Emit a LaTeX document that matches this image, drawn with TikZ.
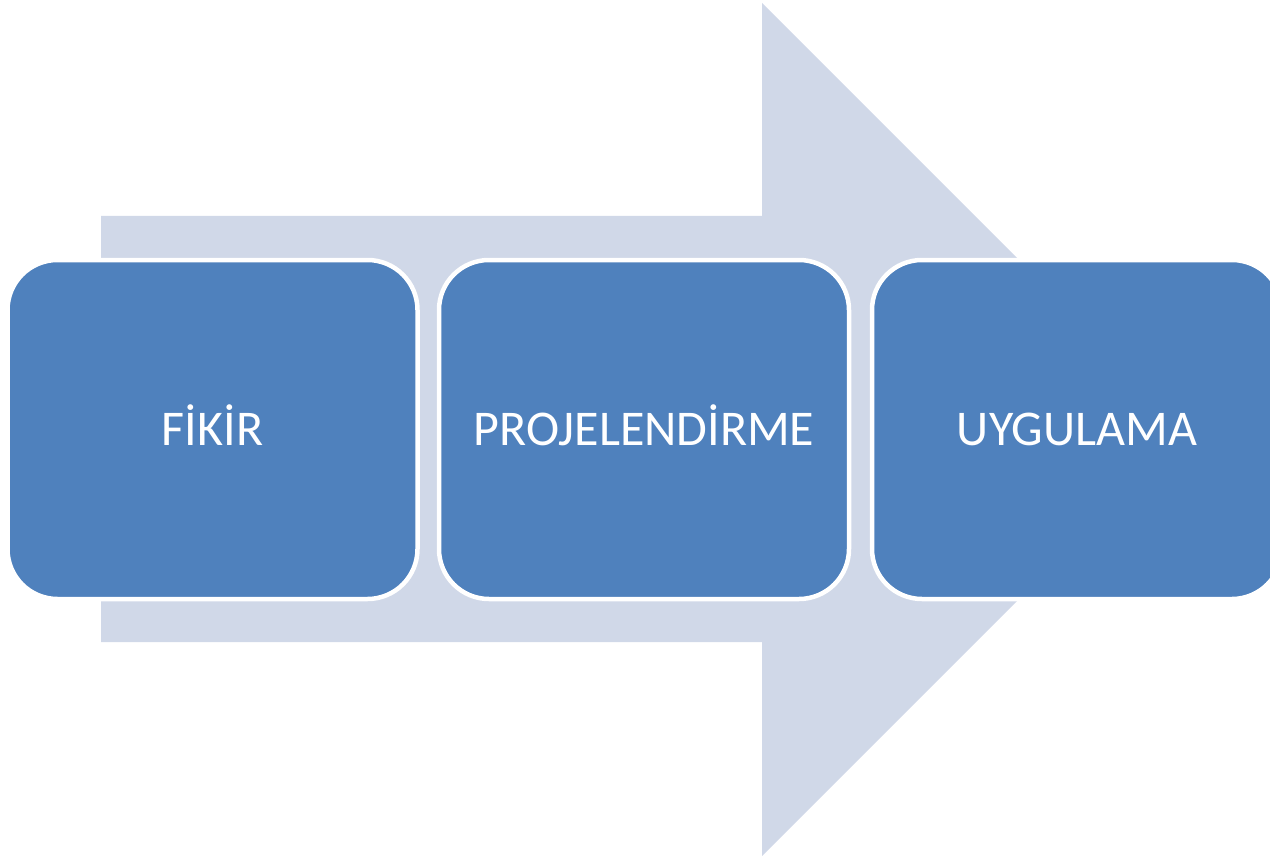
\documentclass[tikz,border=0pt]{standalone}
\usepackage{fontspec}
\setmainfont{Carlito}
\definecolor{arrowfill}{HTML}{D0D8E8}
\definecolor{boxblue}{HTML}{4F81BD}
\tikzset{
  stagebox/.style={draw=white, line width=4.5pt, fill=boxblue, rounded corners=50pt,
    minimum width=410pt, minimum height=339pt, inner sep=0pt, outer sep=0pt,
    text=white, font=\fontsize{50}{60}\selectfont, text height=32pt, text depth=0pt},
  bigarrow/.style={fill=arrowfill, draw=none}
}
\begin{document}
\begin{tikzpicture}[x=1pt,y=-1pt]
\useasboundingbox (0,0) rectangle (1270,856);
\fill[bigarrow] (101,216) -- (762,216) -- (762,3) -- (1188.5,429.5) -- (762,856) -- (762,642) -- (101,642) -- cycle;
\node[stagebox] (b1) at (212.5,429.5) {FİKİR};
\node[stagebox] (b2) at (644,429.5) {PROJELENDİRME};
\node[stagebox] (b3) at (1077,429.5) {UYGULAMA};
\end{tikzpicture}
\end{document}
